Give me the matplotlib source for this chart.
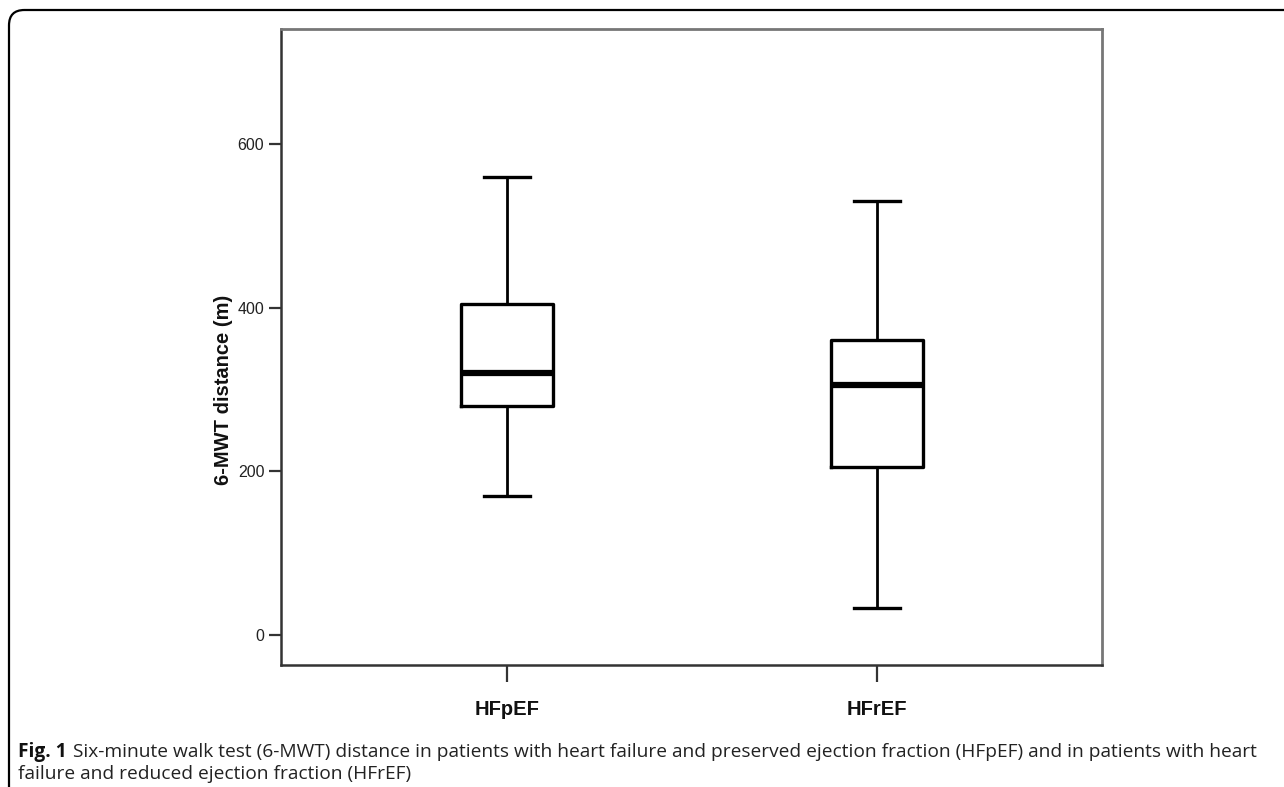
import matplotlib
matplotlib.use('Agg')
import matplotlib.pyplot as plt
from matplotlib.patches import FancyBboxPatch

plt.rcParams['font.family'] = ['Liberation Sans', 'DejaVu Sans']

# box plot summaries
groups = ['HFpEF', 'HFrEF']
whis_lo = [170, 33]
q1 = [280, 205]
median = [320, 305]
q3 = [405, 360]
whis_hi = [560, 530]
yticks = [0, 200, 400, 600]

stats = []
for i, g in enumerate(groups):
    stats.append(dict(label=g, whislo=whis_lo[i], q1=q1[i], med=median[i],
                      q3=q3[i], whishi=whis_hi[i], fliers=[]))

fig = plt.figure(figsize=(12.84, 7.87), dpi=100)
ax = fig.add_axes([281/1284, 1 - 665/787, (1102 - 281)/1284, (665 - 29)/787])

ax.bxp(stats, positions=[1, 2], widths=0.25, showfliers=False, patch_artist=False,
       boxprops=dict(color='black', linewidth=2.4),
       whiskerprops=dict(color='black', linewidth=2.0),
       capprops=dict(color='black', linewidth=2.4),
       medianprops=dict(color='black', linewidth=4.5),
       capwidths=0.125)

ax.set_xlim(0.389, 2.608)
ax.set_ylim(-37, 741)
ax.set_yticks(yticks)
ax.set_yticklabels([str(t) for t in yticks], fontsize=11.5, color='#222222')
ax.set_xticks([1, 2])
ax.set_xticklabels(groups, fontsize=14.5, fontweight='bold', color='#111111')
ax.tick_params(axis='y', length=9, width=1.6, color='#333333', pad=3)
ax.tick_params(axis='x', length=12, width=1.6, color='#333333', pad=13)
ax.set_ylabel('6-MWT distance (m)', fontsize=14.5, fontweight='bold', color='#111111')
# rotated label: its "bottom" is the right side of the text
ax.yaxis.set_label_coords(-0.0585, 0.432)

for s in ['left', 'bottom']:
    ax.spines[s].set_color('#333333')
    ax.spines[s].set_linewidth(1.8)
for s in ['top', 'right']:
    ax.spines[s].set_color('#777777')
    ax.spines[s].set_linewidth(2.0)

# rounded outer frame (only top/left visible)
frame = FancyBboxPatch((9/1284, -0.1), 1.2, 1 - 10/787 + 0.1,
                       boxstyle='round,pad=0,rounding_size=0.012',
                       transform=fig.transFigure, facecolor='none',
                       edgecolor='black', linewidth=1.6, mutation_aspect=1284/787)
fig.patches.append(frame)

# caption
cap_font = ['Open Sans', 'DejaVu Sans']
cap_size = 13.75
t1 = fig.text(18/1284, 1 - 752/787, 'Fig. 1', fontsize=cap_size, fontweight='bold',
              family=cap_font, va='center', ha='left', color='#111111')
fig.canvas.draw()
bb = t1.get_window_extent()
fig.text((bb.x1 + 6)/1284, 1 - 752/787,
         'Six-minute walk test (6-MWT) distance in patients with heart failure and preserved ejection fraction (HFpEF) and in patients with heart',
         fontsize=cap_size, family=cap_font, va='center', ha='left', color='#222222')
fig.text(18/1284, 1 - 774/787, 'failure and reduced ejection fraction (HFrEF)',
         fontsize=cap_size, family=cap_font, va='center', ha='left', color='#222222')

fig.savefig('out.png', dpi=100)
